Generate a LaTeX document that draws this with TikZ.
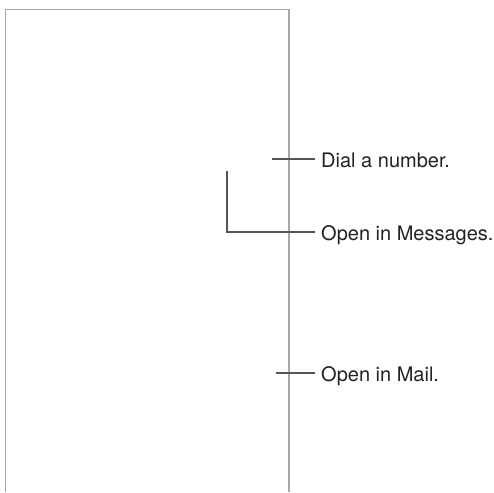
\documentclass[tikz,border=0pt]{standalone}
\usepackage{fontspec}
\setmainfont{TeX Gyre Heros}
\usepackage{xcolor}
\usepackage{tikz}
\usetikzlibrary{positioning}
\definecolor{framegray}{HTML}{A8A8A8}
\definecolor{leadgray}{HTML}{555555}
\definecolor{textgray}{HTML}{222222}

\begin{document}
\begin{tikzpicture}[x=1pt,y=-1pt,
  callout/.style={anchor=west, inner xsep=0pt, inner ysep=0pt,
    text height=16pt, text depth=0pt, text=textgray,
    font=\fontsize{20}{22}\selectfont},
  lead/.style={leadgray, line width=1.2pt}]
\useasboundingbox (0,0) rectangle (494,492);
% screen outline, open at the bottom
\draw[framegray, line width=1.1pt] (5.7,492) -- (5.7,9.7) -- (289,9.7) -- (289,492);
% labels
\node[callout] (dial) at (321,159) {Dial a number.};
\node[callout] (msgs) at (321,232) {Open in Messages.};
\node[callout] (mail) at (321,373) {Open in Mail.};
% leader ends
\coordinate (dialend) at (272,159);
\coordinate (msgsend) at (227,171);
\coordinate (mailend) at (276,373);
\draw[lead] (dialend) -- ([xshift=-6.5pt]dial.west);
\draw[lead] (msgsend) |- ([xshift=-6.5pt]msgs.west);
\draw[lead] (mailend) -- ([xshift=-6.5pt]mail.west);
\end{tikzpicture}
\end{document}
